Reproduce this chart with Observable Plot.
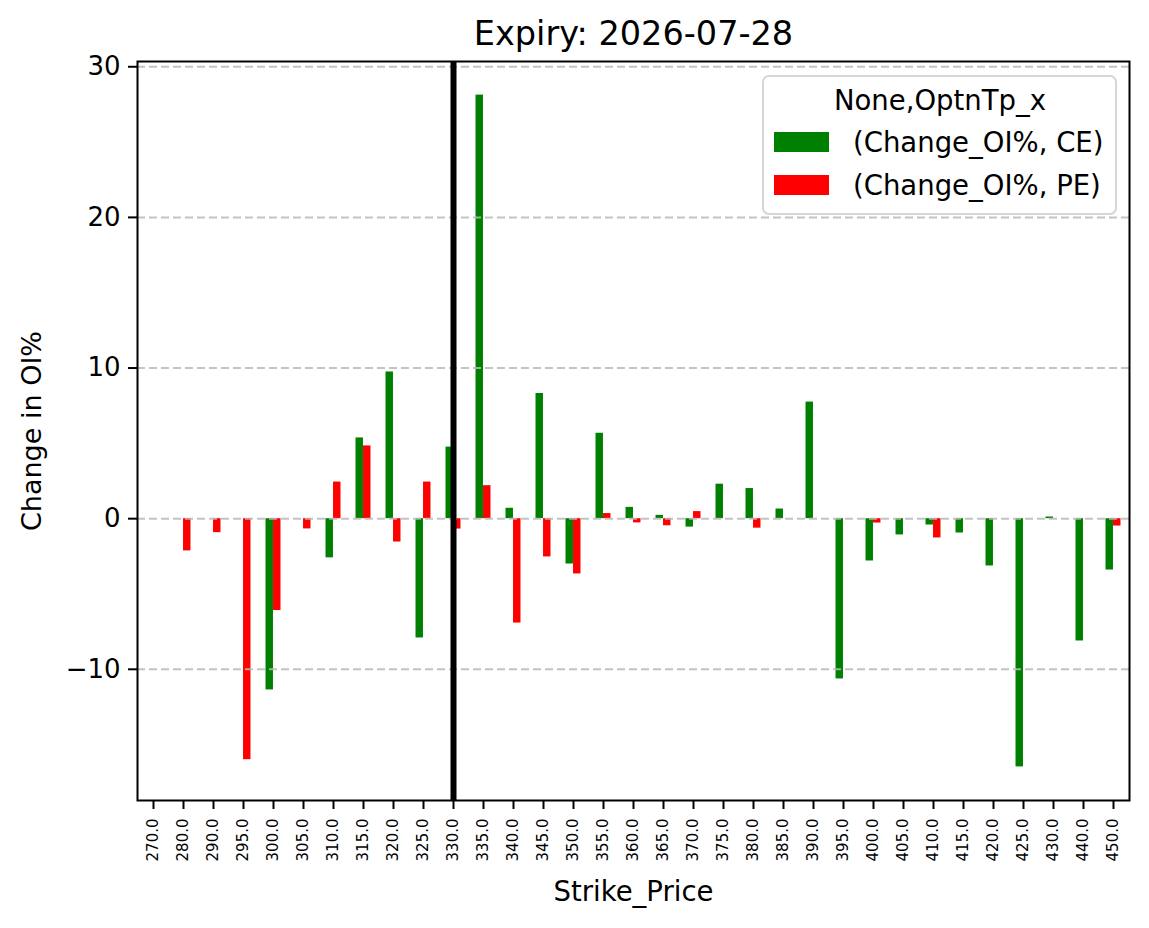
<!DOCTYPE html>
<html>
<head>
<meta charset="utf-8">
<script src="https://cdn.jsdelivr.net/npm/d3@7"></script>
<script src="https://cdn.jsdelivr.net/npm/@observablehq/plot@0.6"></script>
<style>
  body { margin: 0; background: #fff; }
  #chart svg { display: block; font-family: "DejaVu Sans", sans-serif; }
</style>
</head>
<body>
<div id="chart"></div>
<script>
// Strike prices (category labels on the x axis)
const strikes = ["270.0","280.0","290.0","295.0","300.0","305.0","310.0","315.0","320.0","325.0",
  "330.0","335.0","340.0","345.0","350.0","355.0","360.0","365.0","370.0","375.0","380.0",
  "385.0","390.0","395.0","400.0","405.0","410.0","415.0","420.0","425.0","430.0","440.0","450.0"];

// Change in open interest (%) for calls (CE) and puts (PE); null = no data
const ceChange = [null, null, null, null, -11.37, null, -2.6, 5.36, 9.74, -7.92,
  4.75, 28.12, 0.69, 8.31, -3.01, 5.67, 0.75, 0.22, -0.56, 2.29, 2.0,
  0.64, 7.74, -10.64, -2.81, -1.08, -0.42, -0.95, -3.14, -16.48, 0.11, -8.12, -3.41];
const peChange = [null, -2.14, -0.93, -16.0, -6.1, -0.68, 2.43, 4.83, -1.55, 2.43,
  -0.69, 2.19, -6.93, -2.54, -3.67, 0.34, -0.28, -0.47, 0.47, null, -0.63,
  null, null, null, -0.29, null, -1.28, null, null, null, null, null, -0.49];

const seriesNames = ["(Change_OI%, CE)", "(Change_OI%, PE)"];
const seriesColors = ["green", "red"];
const legendTitle = "None,OptnTp_x";
const spotStrike = "330.0";
const yTicks = [-10, 0, 10, 20, 30];

const ceRows = strikes.map((s, i) => ({strike: s, value: ceChange[i]})).filter(d => d.value != null);
const peRows = strikes.map((s, i) => ({strike: s, value: peChange[i]})).filter(d => d.value != null);

const W = 1149, H = 928;
const mL = 137, mR = 20, mT = 61, mB = 128;
const step = (W - mL - mR) / strikes.length;

const all = ceRows.concat(peRows).map(d => d.value);
const lo = d3.min(all), hi = d3.max(all), pad = (hi - lo) * 0.05;

const minus = d => d < 0 ? "\u2212" + Math.abs(d) : String(d);

const chart = Plot.plot({
  width: W, height: H,
  marginLeft: mL, marginRight: mR, marginTop: mT, marginBottom: mB,
  style: {fontFamily: "DejaVu Sans, sans-serif", color: "black", background: "white"},
  x: {type: "band", domain: strikes, padding: 0},
  y: {domain: [lo - pad, hi + pad]},
  marks: [
    Plot.barY(ceRows, {x: "strike", y: "value", fill: seriesColors[0],
      insetLeft: step * 0.25, insetRight: step * 0.5}),
    Plot.barY(peRows, {x: "strike", y: "value", fill: seriesColors[1],
      insetLeft: step * 0.5, insetRight: step * 0.25}),
    Plot.gridY(yTicks, {stroke: "#b8b8b8", strokeOpacity: 0.85, strokeWidth: 2, strokeDasharray: "8,4"}),
    Plot.ruleX([spotStrike], {stroke: "black", strokeWidth: 6}),
    Plot.frame({stroke: "black", strokeWidth: 2}),
    Plot.axisY(yTicks, {tickSize: 9, tickPadding: 8, fontSize: 26, tickFormat: minus, label: null, strokeWidth: 2}),
    Plot.axisX({tickSize: 9, tickRotate: -90, tickPadding: 9, fontSize: 15, label: null, strokeWidth: 2}),
    Plot.text(["Expiry: 2026-07-28"], {frameAnchor: "top", lineAnchor: "middle", dy: -27, fontSize: 33.5}),
    Plot.text(["Strike_Price"], {frameAnchor: "bottom", lineAnchor: "middle", dy: 92, fontSize: 27.5}),
    Plot.text(["Change in OI%"], {frameAnchor: "left", textAnchor: "middle", lineAnchor: "middle",
      dx: -105, rotate: -90, fontSize: 27})
  ]
});
document.getElementById("chart").append(chart);

// Legend box in the upper right of the plot area
const svg = d3.select(chart);
const lg = svg.append("g").attr("font-family", "DejaVu Sans, sans-serif").attr("text-anchor", "start");
lg.append("rect").attr("x", 763).attr("y", 76).attr("width", 353).attr("height", 138)
  .attr("rx", 6).attr("fill", "white").attr("fill-opacity", 0.85)
  .attr("stroke", "#d6d6d6").attr("stroke-width", 2);
lg.append("text").attr("x", 940).attr("y", 110).attr("text-anchor", "middle")
  .attr("font-size", 27.5).text(legendTitle);
seriesNames.forEach((name, i) => {
  const y = 132 + i * 43;
  lg.append("rect").attr("x", 774).attr("y", y).attr("width", 55).attr("height", 20).attr("fill", seriesColors[i]);
  lg.append("text").attr("x", 853).attr("y", y + 20).attr("font-size", 27.5).text(name);
});
</script>
</body>
</html>
